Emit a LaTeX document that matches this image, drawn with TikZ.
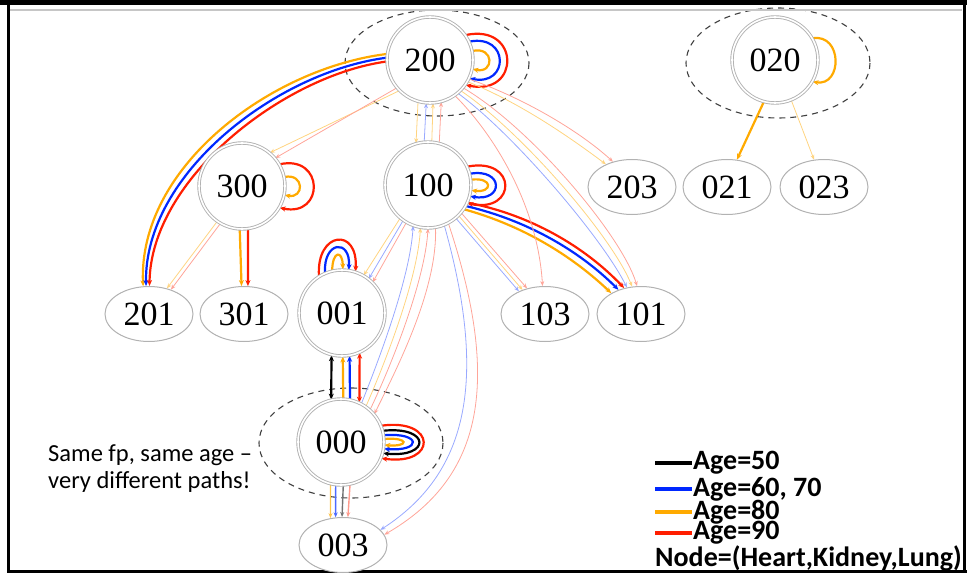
\documentclass[tikz,border=0pt]{standalone}
\usepackage{fontspec}
\setmainfont{Liberation Serif}
\newfontfamily\calib{Carlito}
\usetikzlibrary{arrows.meta,shapes.geometric}
\definecolor{cor}{RGB}{255,170,0}
\definecolor{cbl}{RGB}{0,40,255}
\definecolor{cre}{RGB}{255,30,0}
\pgfdeclarelayer{bg}
\pgfsetlayers{bg,main}
\begin{document}
\begin{tikzpicture}[x=1pt,y=-1pt,
  cnode/.style={circle,draw=gray!60,fill=white,double=white,double distance=1.6pt,line width=0.9pt,minimum size=86pt,inner sep=0pt,font=\fontsize{34}{34}\selectfont},
  enode/.style={ellipse,draw=gray!60,fill=white,line width=1pt,minimum width=88pt,minimum height=55pt,inner sep=0pt,font=\fontsize{34}{34}\selectfont},
  grp/.style={draw=black!75,dash pattern=on 6pt off 5pt,line width=1.1pt},
  strong/.style={line width=2.2pt,-{Stealth[length=6pt,width=5pt]}},
  mid/.style={line width=1.4pt,-{Stealth[length=5pt,width=4pt]}},
  faint/.style={line width=0.8pt,-{Stealth[length=5pt,width=4pt]}},
  fo/.style={faint,draw=cor!50},
  fb/.style={faint,draw=cbl!40},
  fr/.style={faint,draw=cre!40},
  leg/.style={anchor=west,inner sep=0pt,font=\calib\bfseries\fontsize{28}{28}\selectfont},
  legline/.style={line width=4.5pt}
]
\useasboundingbox (0,0) rectangle (967,575);
% frame
\fill[black] (0,0) rectangle (967,5);
\draw[gray!45,line width=1.5pt] (10,10) -- (962,10);
\draw[black,line width=3pt] (8.5,4) -- (8.5,571.5) -- (967,571.5);
\draw[black,line width=3pt] (964.5,4) -- (964.5,571.5);

% nodes
\node[cnode] (n200) at (430,60) {200};
\node[cnode] (n020) at (775,60) {020};
\node[cnode] (n300) at (242,186) {300};
\node[cnode] (n100) at (428,185) {100};
\node[enode] (n203) at (632,187) {203};
\node[enode] (n021) at (727,187) {021};
\node[enode] (n023) at (824,187) {023};
\node[enode] (n201) at (149,314) {201};
\node[enode] (n301) at (244,314) {301};
\node[cnode] (n001) at (342,313) {001};
\node[enode] (n103) at (545,314) {103};
\node[enode] (n101) at (641,314) {101};
\node[cnode] (n000) at (341,442) {000};
\node[enode] (n003) at (343,545) {003};

\begin{pgfonlayer}{bg}
% groups
\draw[grp] (437,63) ellipse [x radius=92, y radius=53];
\draw[grp] (778,63) ellipse [x radius=92, y radius=55];
\draw[grp] (351,443) ellipse [x radius=92, y radius=55];

% 200 -> 201
\draw[strong,cor] (n200.172) .. controls +(-115,14) and +(-5,-120) .. (n201.102);
\draw[strong,cbl] (n200.177) .. controls +(-109,14) and +(-2,-113) .. (n201.96);
\draw[strong,cre] (n200.182) .. controls +(-103,14) and +(1,-107) .. (n201.89);
% 200 loops
\draw[strong,cre] (n200.35) .. controls +(55,-12) and +(55,12) .. (n200.-35);
\draw[strong,cbl] (n200.25) .. controls +(40,-8) and +(40,8) .. (n200.-25);
\draw[strong,cor] (n200.12) .. controls +(22,-5) and +(22,5) .. (n200.-12);
% 020
\draw[strong,cor] (n020.30) .. controls +(30,-5) and +(30,5) .. (n020.-30);
\draw[strong,cor] (n020.-105) -- (n021.70);
\draw[fo] (n020.-68) -- (n023.110);
% 300
\draw[strong,cre] (n300.30) .. controls +(45,-10) and +(45,10) .. (n300.-30);
\draw[strong,cor] (n300.12) .. controls +(20,-4) and +(20,4) .. (n300.-12);
\draw[strong,cor] (n300.-93) -- (n301.95);
\draw[strong,cre] (n300.-82) -- (n301.82);
\draw[fo] (n300.-125) -- (n201.55);
\draw[fr] (n300.-120) -- (n201.48);
% 200 -> 300
\draw[fo] (n200.-135) -- (n300.50);
\draw[fr] (n200.-140) -- (n300.40);
% 100 loops
\draw[strong,cre] (n100.25) .. controls +(50,-10) and +(50,10) .. (n100.-25);
\draw[strong,cbl] (n100.15) .. controls +(34,-6) and +(34,6) .. (n100.-15);
\draw[strong,cor] (n100.7) .. controls +(22,-3) and +(22,3) .. (n100.-7);
% 100 -> 101
\draw[strong,cre] (n100.-24) .. controls +(62,12) and +(-40,-42) .. (n101.123);
\draw[strong,cbl] (n100.-29) .. controls +(60,14) and +(-40,-40) .. (n101.133);
\draw[strong,cor] (n100.-34) .. controls +(58,16) and +(-40,-38) .. (n101.145);
% 100 -> 103
\draw[fb] (n100.-50) -- (n103.139);
\draw[fo] (n100.-45) -- (n103.133);
\draw[fr] (n100.-40) -- (n103.125);
% 200 -> 103
\draw[fr] (n200.-55) .. controls +(40,40) and +(-5,-80) .. (n103.95);
% 200 -> 101
\draw[fb] (n200.-50) .. controls +(55,40) and +(-25,-50) .. (n101.118);
\draw[fo] (n200.-45) .. controls +(60,40) and +(-20,-50) .. (n101.108);
\draw[fr] (n200.-40) .. controls +(68,40) and +(-15,-50) .. (n101.98);
% 200 -> 203
\draw[fo] (n200.-30) .. controls +(50,20) and +(-40,-30) .. (n203.139);
\draw[fr] (n200.-26) .. controls +(52,18) and +(-35,-32) .. (n203.127);
% 200 <-> 100
\draw[fo] (n200.-106) -- (n100.106);
\draw[fb] (n100.95) -- (n200.-95);
\draw[fo] (n100.85) -- (n200.-86);
\draw[fr] (n100.75) -- (n200.-75);
% 001 loops
\draw[strong,cre] (n001.122) .. controls +(-3,-45) and +(3,-45) .. (n001.72);
\draw[strong,cbl] (n001.113) .. controls +(-2,-32) and +(2,-32) .. (n001.81);
\draw[strong,cor] (n001.103) .. controls +(0,-20) and +(0,-20) .. (n001.89);
% 100 -> 001
\draw[fo] (n100.-130) -- (n001.60);
\draw[fb] (n100.-125) -- (n001.52);
\draw[fr] (n100.-120) -- (n001.45);
% 000 -> 100
\draw[fb] (n000.62) .. controls +(20,-50) and +(-3,50) .. (n100.-110);
\draw[fo] (n000.55) .. controls +(22,-50) and +(-3,50) .. (n100.-100);
\draw[fr] (n000.48) .. controls +(24,-50) and +(-3,50) .. (n100.-90);
\draw[fr] (n100.-80) .. controls +(2,60) and +(25,-50) .. (n000.40);
% 000 loops
\draw[strong,cre] (n000.22) .. controls +(56,-8) and +(56,8) .. (n000.-22);
\draw[strong,black] (n000.15) .. controls +(48,-5) and +(48,5) .. (n000.-15);
\draw[strong,cbl] (n000.9) .. controls +(38,-3) and +(38,3) .. (n000.-9);
\draw[strong,cor] (n000.4) .. controls +(25,-2) and +(25,2) .. (n000.-4);
% 000 -> 001
\draw[strong,black,{Stealth[length=6pt,width=5pt]}-{Stealth[length=6pt,width=5pt]}] (n000.103) -- (n001.-104);
\draw[strong,cor] (n000.87) -- (n001.-89);
\draw[strong,cbl] (n000.78) -- (n001.-80);
\draw[strong,cre,{Stealth[length=6pt,width=5pt]}-{Stealth[length=6pt,width=5pt]}] (n000.65) -- (n001.-66);
% 000 -> 003
\draw[mid,cor!70] (n000.-104) -- (n003.115);
\draw[mid,cbl!70] (n000.-97) -- (n003.105);
\draw[mid,black!55] (n000.-87) -- (n003.92);
\draw[mid,cre!45] (n000.-78) -- (n003.80);
% 100 -> 003
\draw[fb] (n100.-68) .. controls +(45,160) and +(85,-55) .. (n003.22);
\draw[fr] (n100.-62) .. controls +(55,165) and +(95,-55) .. (n003.14);
\end{pgfonlayer}

% annotation
\node[anchor=west,align=left,inner sep=0pt,font=\calib\fontsize{24.5}{27}\selectfont] (note) at (48,469) {Same fp, same age \textendash\\very different paths!};

% legend
\coordinate (l1a) at (655,463); \coordinate (l1b) at (692,463);
\coordinate (l2a) at (655,489); \coordinate (l2b) at (692,489);
\coordinate (l3a) at (655,512); \coordinate (l3b) at (692,512);
\coordinate (l4a) at (655,533); \coordinate (l4b) at (692,533);
\draw[legline,black] (l1a) -- (l1b);
\draw[legline,cbl] (l2a) -- (l2b);
\draw[legline,cor] (l3a) -- (l3b);
\draw[legline,cre] (l4a) -- (l4b);
\node[leg] (t1) at (693,463) {Age=50};
\node[leg] (t2) at (693,489) {Age=60, 70};
\node[leg] (t3) at (693,512) {Age=80};
\node[leg] (t4) at (693,533) {Age=90};
\node[leg] (t5) at (655,558) {Node=(Heart,Kidney,Lung)};
\end{tikzpicture}
\end{document}
